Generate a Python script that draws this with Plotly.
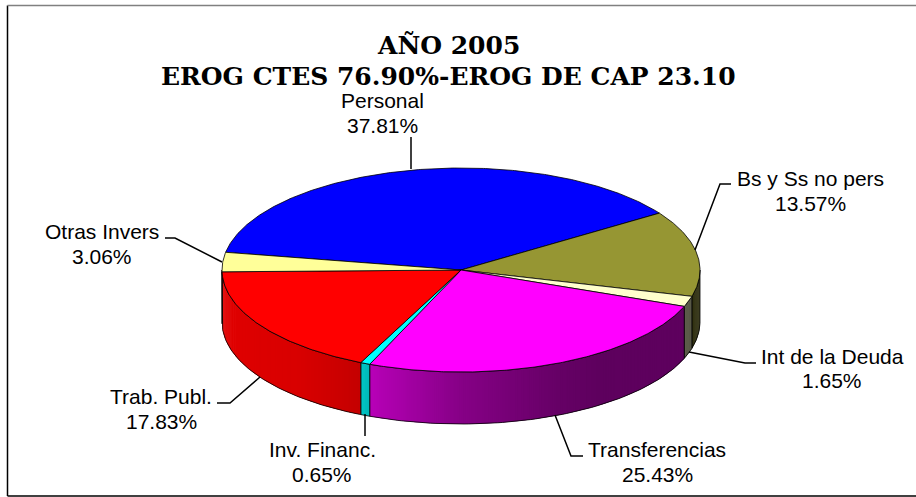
import numpy as np
import plotly.graph_objects as go

categories = ["Personal", "Bs y Ss no pers", "Int de la Deuda", "Transferencias",
              "Inv. Financ.", "Trab. Publ.", "Otras Invers"]
shares = [37.81, 13.57, 1.65, 25.43, 0.65, 17.83, 3.06]
colors = ["#0000FF", "#969633", "#FFFFCC", "#FF00FF", "#00FFFF", "#FF0000", "#FFFF99"]
title_lines = ["AÑO 2005", "EROG CTES 76.90%-EROG DE CAP 23.10"]

W, H = 916, 497
CX, CY, RX, RY, DEPTH = 461, 270, 239, 102, 52
START = -80.0
FONT = "Liberation Sans, Arial, sans-serif"
TITLE_FONT = "DejaVu Serif, serif"


def pt(theta, drop=0.0):
    t = np.radians(theta)
    return CX + RX * np.sin(t), CY - RY * np.cos(t) + drop


def shade(hexcol, k):
    r, g, b = (int(hexcol[i:i + 2], 16) for i in (1, 3, 5))
    return f"rgb({int(r * k)},{int(g * k)},{int(b * k)})"


def brightness(x):
    return float(np.interp(x, [222, 300, 362, 370, 460, 560, 600, 684, 700],
                           [0.88, 0.85, 0.77, 0.72, 0.53, 0.40, 0.37, 0.37, 0.30]))


fig = go.Figure()


def poly(xs, ys, fill=None, line="black", width=1.0):
    fig.add_trace(go.Scatter(
        x=xs, y=ys, mode="lines",
        fill="toself" if fill else "none",
        fillcolor=fill,
        line=dict(color=line, width=width),
        hoverinfo="skip", showlegend=False,
    ))


total = sum(shares)
edges = START + np.cumsum([0] + shares) * 360.0 / total

# side walls (only the part of the rim that faces the viewer)
for i, c in enumerate(colors):
    a, b = max(edges[i], 90.0), min(edges[i + 1], 270.0)
    if b <= a:
        continue
    steps = max(2, int((b - a) / 0.5))
    th = np.linspace(a, b, steps + 1)
    for t0, t1 in zip(th[:-1], th[1:]):
        t2 = min(t1 + 0.5, b)  # overlap the next strip so no seam shows
        x0, y0 = pt(t0)
        x1, y1 = pt(t2)
        x2, y2 = pt(t2, DEPTH)
        x3, y3 = pt(t0, DEPTH)
        col = shade(c, brightness((pt(t0)[0] + pt(t1)[0]) / 2))
        poly([x0, x1, x2, x3, x0], [y0, y1, y2, y3, y0], fill=col, line=col, width=0)
    # wall outline
    arc = np.linspace(a, b, 80)
    top = [pt(t) for t in arc]
    bot = [pt(t, DEPTH) for t in arc[::-1]]
    loop = top + bot + [top[0]]
    poly([p[0] for p in loop], [p[1] for p in loop], width=0.8)

# top face
for i, c in enumerate(colors):
    arc = np.linspace(edges[i], edges[i + 1], max(3, int(edges[i + 1] - edges[i]) * 2))
    xs = [CX] + [pt(t)[0] for t in arc] + [CX]
    ys = [CY] + [pt(t)[1] for t in arc] + [CY]
    poly(xs, ys, fill=c, line="black", width=0.8)

# leader lines (page pixels)
leaders = [
    [(411, 137), (411, 169)],
    [(165, 238), (175, 238), (222, 262)],
    [(731, 184), (720, 184), (695, 250)],
    [(756, 363), (745, 363), (689, 352)],
    [(583, 456), (571, 456), (555, 415)],
    [(365, 414), (365, 436)],
    [(217, 403), (230, 403), (260, 377)],
]
for seg in leaders:
    poly([p[0] for p in seg], [p[1] for p in seg], width=1.5)

# label anchors: centre x, name y, percent y
anchors = [(382, 100, 125), (102, 231, 256), (810, 178, 203), (832, 356, 380),
           (657, 449, 474), (322, 449, 474), (161, 396, 421)]
order = [0, 6, 1, 2, 3, 4, 5]
annotations = []
for slot, idx in zip(anchors, order):
    x, y1, y2 = slot
    for y, text in ((y1, categories[idx]), (y2, f"{shares[idx]:.2f}%")):
        annotations.append(dict(x=x, y=y, text=text, showarrow=False, xanchor="center",
                                yanchor="middle", font=dict(family=FONT, size=21, color="black")))
for y, text in zip((45, 76), title_lines):
    annotations.append(dict(x=448, y=y, text=f"<b>{text}</b>", showarrow=False, xanchor="center",
                            yanchor="middle", font=dict(family=TITLE_FONT, size=25, color="black")))

# chart frame
shapes = [
    dict(type="line", x0=7.5, x1=7.5, y0=5.5, y1=496, line=dict(color="black", width=1.5)),
    dict(type="line", x0=7.5, x1=916, y0=5.5, y1=5.5, line=dict(color="#808080", width=1.5)),
    dict(type="line", x0=7.5, x1=916, y0=496, y1=496, line=dict(color="black", width=1.5)),
]

fig.update_layout(
    width=W, height=H, margin=dict(l=0, r=0, t=0, b=0),
    paper_bgcolor="white", plot_bgcolor="white", showlegend=False,
    xaxis=dict(range=[0, W], visible=False, fixedrange=True),
    yaxis=dict(range=[H, 0], visible=False, fixedrange=True),
    annotations=annotations, shapes=shapes,
)
fig.write_html("out.html", config={"displayModeBar": False},
               post_script="document.body.style.margin='0';document.documentElement.style.overflow='hidden';")
